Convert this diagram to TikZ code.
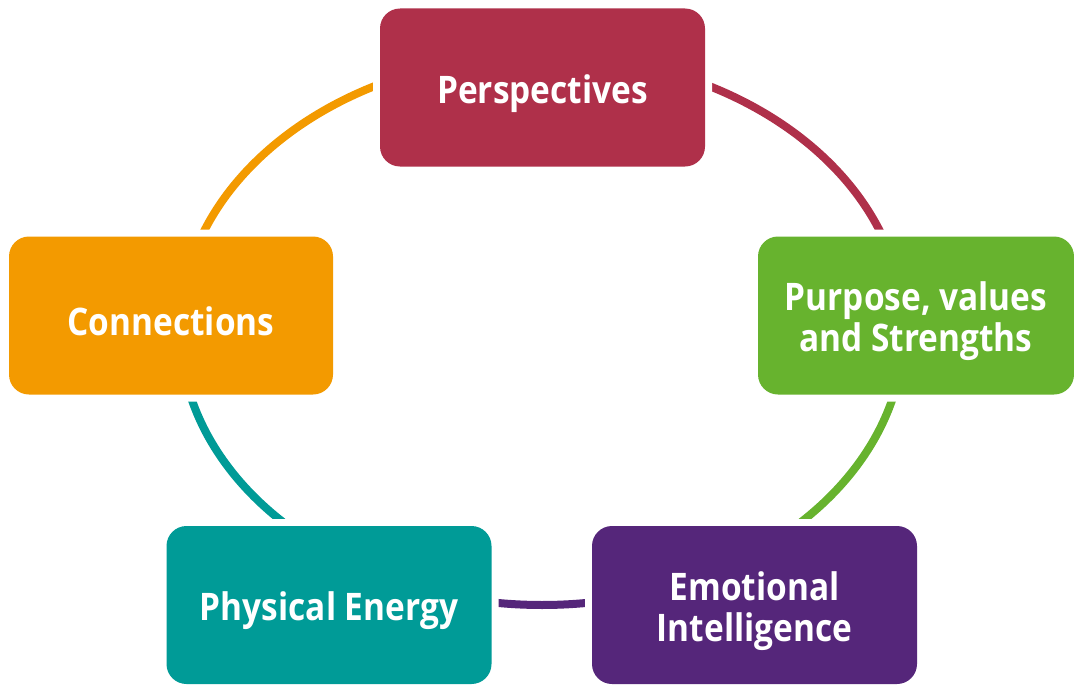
\documentclass[tikz,border=0pt]{standalone}
\usepackage{fontspec}
\setmainfont{Open Sans}[FakeStretch=0.88]
\usepackage{tikz}
\usepackage{xcolor}

\definecolor{perspred}{HTML}{AF304A}
\definecolor{purposegreen}{HTML}{67B32E}
\definecolor{emotpurple}{HTML}{55267A}
\definecolor{energyteal}{HTML}{009B97}
\definecolor{connorange}{HTML}{F39A00}

\tikzset{
	feld/.style={rounded corners=0.2cm, minimum width=3.25cm, minimum height=1.58cm,
		inner sep=0pt, preaction={draw=white, line width=0.14cm}},
	schrift/.style={text=white, align=center, inner sep=0pt,
		font=\bfseries\fontsize{10.8}{11.7}\selectfont},
	bogen/.style={line width=0.08cm}
}

\begin{document}
\begin{tikzpicture}
	\useasboundingbox (0,0) rectangle (10.74,-6.84);
	% mittelpunkt der ellipse
	\coordinate (mitte) at (5.42,-3.30);
	% die boegen zuerst, damit die felder darueber liegen
	\draw[bogen, perspred] (mitte) ++(90:3.62 and 2.75)
		arc[start angle=90, end angle=0, x radius=3.62, y radius=2.75];
	\draw[bogen, purposegreen] (mitte) ++(0:3.62 and 2.75)
		arc[start angle=0, end angle=-60, x radius=3.62, y radius=2.75];
	\draw[bogen, emotpurple] (mitte) ++(-60:3.62 and 2.75)
		arc[start angle=-60, end angle=-120, x radius=3.62, y radius=2.75];
	\draw[bogen, energyteal] (mitte) ++(-120:3.62 and 2.75)
		arc[start angle=-120, end angle=-180, x radius=3.62, y radius=2.75];
	\draw[bogen, connorange] (mitte) ++(180:3.62 and 2.75)
		arc[start angle=180, end angle=90, x radius=3.62, y radius=2.75];
	% die felder
	\node[feld, fill=perspred] (persp) at (5.425,-0.875) {};
	\node[feld, fill=purposegreen, minimum width=3.16cm] (purpose) at (9.16,-3.155) {};
	\node[feld, fill=emotpurple] (emot) at (7.545,-6.05) {};
	\node[feld, fill=energyteal] (energy) at (3.29,-6.05) {};
	\node[feld, fill=connorange, minimum width=3.24cm] (conn) at (1.71,-3.155) {};
	% die beschriftungen
	\node[schrift] (persptext) at ([yshift=-0.06cm]persp.center) {Perspectives};
	\node[schrift] (purposetext) at ([yshift=-0.06cm]purpose.center)
		{Purpose, values\\and Strengths};
	\node[schrift] (emottext) at ([yshift=-0.06cm]emot.center)
		{Emotional\\Intelligence};
	\node[schrift] (energytext) at ([yshift=-0.06cm]energy.center) {Physical Energy};
	\node[schrift] (conntext) at ([yshift=-0.06cm]conn.center) {Connections};
\end{tikzpicture}
\end{document}
